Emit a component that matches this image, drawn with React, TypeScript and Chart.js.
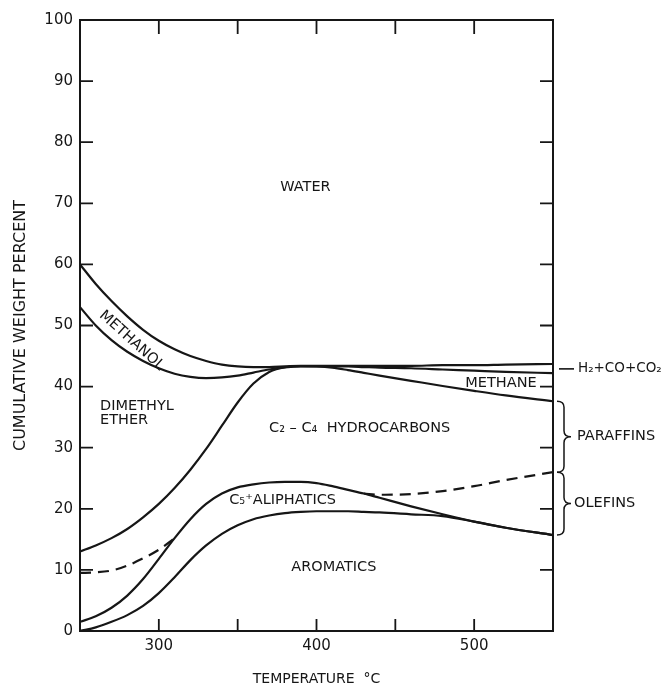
import React, { useEffect, useRef } from "react";
import { Chart, registerables } from "chart.js";

Chart.register(...registerables);

// ---------- data ----------
const temps = [250, 260, 270, 280, 290, 300, 310, 320, 330, 340, 350, 360, 370, 380, 390, 400, 410, 420, 430, 440, 460, 480, 500, 520, 550];

// upper boundary of methanol (lower boundary of water)
const waterLower = [60.0, 56.8, 54.0, 51.5, 49.3, 47.5, 46.1, 45.0, 44.2, 43.6, 43.3, 43.2, 43.2, 43.3, 43.4, 43.4, 43.4, 43.4, 43.4, 43.4, 43.4, 43.5, 43.5, 43.6, 43.7];
// lower boundary of methanol / top of dimethyl ether, then top of methane
const methanolLower = [53.0, 50.0, 47.6, 45.7, 44.2, 43.0, 42.1, 41.6, 41.4, 41.5, 41.8, 42.3, 42.8, 43.15, 43.3, 43.3, 43.3, 43.3, 43.2, 43.1, 43.0, 42.8, 42.6, 42.4, 42.2];
// top of C2-C4 hydrocarbons (lower boundary of DME, then of methane)
const c2c4Top = [13.0, 14.0, 15.2, 16.7, 18.6, 20.8, 23.4, 26.4, 29.8, 33.6, 37.4, 40.5, 42.4, 43.2, 43.35, 43.3, 43.1, 42.7, 42.25, 41.8, 40.95, 40.1, 39.3, 38.55, 37.6];
// top of C5+ aliphatics
const c5Top = [1.5, 2.4, 3.8, 5.8, 8.5, 11.8, 15.2, 18.3, 20.8, 22.5, 23.5, 24.0, 24.3, 24.4, 24.4, 24.2, 23.7, 23.1, 22.5, 21.8, 20.4, 19.1, 17.9, 16.9, 15.7];
// top of aromatics
const aromaticsTop = [0.0, 0.6, 1.5, 2.6, 4.1, 6.2, 8.8, 11.6, 14.0, 15.9, 17.3, 18.3, 18.9, 19.3, 19.5, 19.6, 19.6, 19.6, 19.5, 19.4, 19.1, 18.8, 17.9, 16.9, 15.7];
// dashed olefins / paraffins split within C2-C4
const olefinSplit = [9.5, 9.6, 9.9, 10.7, 11.9, 13.3, 15.2, null, null, null, null, null, null, null, null, null, null, null, 22.5, 22.3, 22.4, 22.9, 23.7, 24.7, 26.0];

const yTickLabels = [0, 10, 20, 30, 40, 50, 60, 70, 80, 90, 100];
const xTickLabels = [300, 400, 500];
const yTickMarks = [10, 20, 30, 40, 50, 60, 70, 80, 90];
const xTickMarks = [300, 350, 400, 450, 500];

// braces on the right (values at the right edge)
const paraffinRange = [37.6, 26.0];
const olefinRange = [26.0, 15.7];
const gasLevel = 42.9;

const regionLabels = [
  { text: "WATER", t: 393, v: 72.7, align: "center", rot: 0 },
  { text: "METHANOL", t: 282.8, v: 47.5, align: "center", rot: 42 },
  { text: "DIMETHYL", t: 262.7, v: 36.8, align: "left", rot: 0 },
  { text: "ETHER", t: 262.7, v: 34.5, align: "left", rot: 0 },
  { text: "C\u2082 \u2013 C\u2084  HYDROCARBONS", t: 427.4, v: 33.2, align: "center", rot: 0 },
  { text: "C\u2085\u207AALIPHATICS", t: 378.5, v: 21.4, align: "center", rot: 0 },
  { text: "AROMATICS", t: 411, v: 10.5, align: "center", rot: 0 },
  { text: "METHANE", t: 517, v: 40.6, align: "center", rot: 0 },
];

const INK = "#161616";
const FAMILY = '"DejaVu Sans", sans-serif';

function drawBrace(ctx: CanvasRenderingContext2D, x: number, y1: number, y2: number, w: number) {
  const mid = (y1 + y2) / 2;
  const r = 6;
  const xm = x + w * 0.5;
  ctx.beginPath();
  ctx.moveTo(x, y1);
  ctx.quadraticCurveTo(xm, y1, xm, y1 + r);
  ctx.lineTo(xm, mid - r);
  ctx.quadraticCurveTo(xm, mid, x + w, mid);
  ctx.quadraticCurveTo(xm, mid, xm, mid + r);
  ctx.lineTo(xm, y2 - r);
  ctx.quadraticCurveTo(xm, y2, x, y2);
  ctx.stroke();
}

const decorPlugin = {
  id: "decor",
  afterDraw(chart: any) {
    const { ctx, chartArea: a, scales } = chart;
    const x = scales.x;
    const y = scales.y;
    ctx.save();
    ctx.strokeStyle = INK;
    ctx.lineWidth = 2;
    ctx.strokeRect(a.left, a.top, a.right - a.left, a.bottom - a.top);
    ctx.lineWidth = 1.8;
    ctx.beginPath();
    for (const v of yTickMarks) {
      const py = y.getPixelForValue(v);
      ctx.moveTo(a.left, py);
      ctx.lineTo(a.left + 13, py);
      ctx.moveTo(a.right, py);
      ctx.lineTo(a.right - 13, py);
    }
    for (const t of xTickMarks) {
      const px = x.getPixelForValue(t);
      ctx.moveTo(px, a.bottom);
      ctx.lineTo(px, a.bottom - 12);
      ctx.moveTo(px, a.top);
      ctx.lineTo(px, a.top + 14);
    }
    ctx.stroke();

    ctx.fillStyle = INK;
    ctx.font = `14.5px ${FAMILY}`;
    ctx.textBaseline = "middle";
    for (const l of regionLabels) {
      const px = x.getPixelForValue(l.t);
      const py = y.getPixelForValue(l.v);
      ctx.save();
      ctx.translate(px, py);
      ctx.rotate((l.rot * Math.PI) / 180);
      ctx.textAlign = l.align as CanvasTextAlign;
      ctx.fillText(l.text, 0, 0);
      ctx.restore();
    }

    // braces and their labels
    ctx.textAlign = "left";
    ctx.lineWidth = 1.5;
    const p1 = y.getPixelForValue(paraffinRange[0]);
    const p2 = y.getPixelForValue(paraffinRange[1]);
    drawBrace(ctx, a.right + 4, p1, p2, 14);
    ctx.fillText("PARAFFINS", a.right + 24, (p1 + p2) / 2);
    const o1 = y.getPixelForValue(olefinRange[0]);
    const o2 = y.getPixelForValue(olefinRange[1]);
    drawBrace(ctx, a.right + 4, o1, o2, 14);
    ctx.fillText("OLEFINS", a.right + 21, (o1 + o2) / 2);

    // gases pointer
    const gy = y.getPixelForValue(gasLevel);
    ctx.lineWidth = 1.6;
    ctx.beginPath();
    ctx.moveTo(a.right + 6, gy);
    ctx.lineTo(a.right + 21, gy);
    ctx.stroke();
    ctx.font = `13.5px ${FAMILY}`;
    ctx.fillText("H\u2082+CO+CO\u2082", a.right + 25, gy);
    ctx.restore();
  },
};

function series(values: (number | null)[]) {
  return temps.map((t, i) => ({ x: t, y: values[i] }));
}

export default function App() {
  const ref = useRef<HTMLCanvasElement | null>(null);
  useEffect(() => {
    document.body.style.margin = "0";
    const canvas = ref.current;
    if (!canvas) return;
    const line = (data: (number | null)[], dash: number[] = []) => ({
      data: series(data),
      borderColor: INK,
      borderWidth: 2.2,
      borderDash: dash,
      pointRadius: 0,
      fill: false,
      cubicInterpolationMode: "monotone" as const,
      spanGaps: false,
    });
    const chart = new Chart(canvas, {
      type: "line",
      data: {
        datasets: [
          line(waterLower),
          line(methanolLower),
          line(c2c4Top),
          line(c5Top),
          line(aromaticsTop),
          line(olefinSplit, [11, 7]),
        ] as any,
      },
      options: {
        responsive: false,
        animation: false,
        layout: { padding: { top: 20, right: 115, left: 0, bottom: 0 } },
        plugins: { legend: { display: false }, tooltip: { enabled: false } },
        scales: {
          x: {
            type: "linear",
            min: 250,
            max: 550,
            grid: { display: false, drawTicks: false },
            border: { display: false },
            afterBuildTicks: (s: any) => {
              s.ticks = xTickLabels.map((v) => ({ value: v }));
            },
            ticks: { font: { family: FAMILY, size: 15 }, color: INK, padding: 6, maxRotation: 0 },
            title: {
              display: true,
              text: "TEMPERATURE  \u00B0C",
              font: { family: FAMILY, size: 14, lineHeight: 1 },
              color: INK,
              padding: { top: 0, bottom: 0 },
            },
            afterFit: (s: any) => {
              s.height = 55;
            },
          },
          y: {
            type: "linear",
            min: 0,
            max: 100,
            grid: { display: false, drawTicks: false },
            border: { display: false },
            afterBuildTicks: (s: any) => {
              s.ticks = yTickLabels.map((v) => ({ value: v }));
            },
            ticks: { font: { family: FAMILY, size: 15 }, color: INK, padding: 7 },
            title: {
              display: true,
              text: "CUMULATIVE WEIGHT PERCENT",
              font: { family: FAMILY, size: 16 },
              color: INK,
              padding: { top: 11, bottom: 0 },
            },
            afterFit: (s: any) => {
              s.width = 80;
            },
          },
        },
      } as any,
      plugins: [decorPlugin],
    });
    return () => chart.destroy();
  }, []);
  return (
    <div style={{ width: 668, height: 686, background: "#fff" }}>
      <canvas ref={ref} width={668} height={686} style={{ display: "block" }} />
    </div>
  );
}
